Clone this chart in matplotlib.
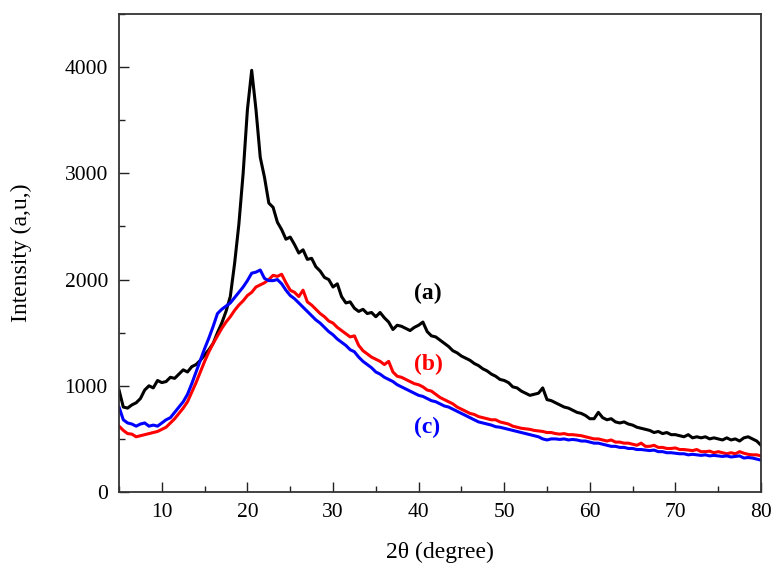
import numpy as np
import matplotlib
matplotlib.use("Agg")
import matplotlib.pyplot as plt
from matplotlib.ticker import MultipleLocator

# --- data (step 0.5 degree, 5 -> 80) ---
two_theta = np.arange(5.0, 80.01, 0.5)

intensity_a = [
    960, 800, 790, 820, 840, 880, 960, 1000, 980, 1050,
    1030, 1040, 1080, 1070, 1110, 1150, 1130, 1180, 1200, 1240,
    1290, 1340, 1400, 1500, 1590, 1700, 1840, 2150, 2520, 3000,
    3600, 3970, 3600, 3150, 2960, 2720, 2680, 2540, 2470, 2380,
    2400, 2330, 2250, 2280, 2190, 2200, 2120, 2080, 2020, 2000,
    1930, 1960, 1840, 1780, 1790, 1730, 1700, 1720, 1680, 1690,
    1650, 1690, 1640, 1600, 1530, 1570, 1560, 1540, 1520, 1550,
    1570, 1600, 1510, 1470, 1460, 1430, 1400, 1370, 1330, 1310,
    1280, 1260, 1240, 1210, 1190, 1160, 1140, 1110, 1090, 1060,
    1050, 1030, 990, 980, 950, 930, 910, 920, 930, 980,
    870, 860, 840, 820, 800, 790, 770, 750, 740, 720,
    690, 690, 750, 700, 680, 690, 660, 650, 660, 640,
    630, 610, 600, 590, 580, 560, 570, 550, 560, 540,
    540, 530, 520, 540, 510, 520, 510, 520, 500, 510,
    500, 490, 510, 490, 500, 480, 510, 520, 500, 480,
    440,
]

intensity_b = [
    620, 580, 550, 545, 520, 530, 540, 550, 560, 570,
    590, 610, 650, 690, 740, 790, 850, 940, 1030, 1130,
    1230, 1320, 1400, 1470, 1540, 1600, 1650, 1710, 1760, 1800,
    1850, 1880, 1930, 1950, 1970, 2000, 2040, 2030, 2050, 1970,
    1900, 1880, 1840, 1900, 1790, 1760, 1720, 1680, 1650, 1610,
    1590, 1550, 1520, 1490, 1460, 1470, 1380, 1330, 1300, 1270,
    1250, 1230, 1200, 1230, 1130, 1090, 1080, 1060, 1040, 1020,
    1010, 990, 960, 950, 920, 890, 870, 850, 830, 800,
    780, 760, 740, 730, 710, 700, 690, 680, 680, 660,
    650, 640, 620, 610, 600, 595, 590, 580, 575, 570,
    560, 560, 550, 545, 550, 540, 540, 535, 530, 520,
    510, 500, 500, 490, 480, 490, 470, 470, 460, 460,
    450, 440, 460, 430, 430, 440, 420, 420, 410, 410,
    415, 400, 400, 395, 390, 400, 380, 380, 385, 370,
    380, 370, 360, 370, 360, 380, 365, 355, 350, 350,
    340,
]

intensity_c = [
    800, 680, 650, 640, 620, 640, 650, 620, 630, 620,
    650, 680, 700, 750, 800, 850, 920, 1020, 1130, 1240,
    1350, 1450, 1560, 1680, 1720, 1750, 1780, 1830, 1880, 1930,
    1990, 2060, 2070, 2090, 2010, 1990, 1990, 2000, 1960, 1900,
    1850, 1820, 1780, 1740, 1700, 1660, 1620, 1590, 1550, 1510,
    1480, 1440, 1410, 1380, 1340, 1320, 1270, 1230, 1200, 1170,
    1130, 1110, 1080, 1060, 1040, 1010, 990, 970, 950, 930,
    910, 900, 880, 860, 850, 830, 810, 800, 780, 760,
    740, 720, 700, 680, 660, 650, 640, 630, 615, 610,
    600, 590, 580, 570, 560, 550, 540, 530, 520, 500,
    490, 500, 500, 495, 500, 490, 495, 490, 480, 480,
    470, 460, 460, 450, 440, 430, 430, 420, 420, 410,
    410, 400, 400, 395, 390, 395, 380, 380, 370, 370,
    365, 360, 360, 350, 355, 350, 345, 350, 340, 345,
    340, 335, 340, 330, 335, 340, 320, 325, 320, 310,
    300,
]

series_labels = ["(a)", "(b)", "(c)"]
series_colors = ["black", "red", "blue"]
label_pos = [(41.1, 1870), (41.1, 1205), (41.0, 612)]

plt.rcParams["font.family"] = ["Liberation Serif", "DejaVu Serif"]

fig = plt.figure(figsize=(7.81, 5.76), dpi=100)
ax = fig.add_axes([0.1524, 0.1458, 0.822, 0.8299])

for y, c in zip([intensity_a, intensity_b, intensity_c], series_colors):
    ax.plot(two_theta, y, color=c, lw=2.2)

for lab, c, (lx, ly) in zip(series_labels, series_colors, label_pos):
    ax.text(lx, ly, lab, color=c, fontsize=17, fontweight="bold",
            ha="center", va="center")

ax.set_xlim(5, 80)
ax.set_ylim(0, 4500)
ax.xaxis.set_major_locator(MultipleLocator(10))
ax.xaxis.set_minor_locator(MultipleLocator(5))
ax.yaxis.set_major_locator(MultipleLocator(1000))
ax.yaxis.set_minor_locator(MultipleLocator(500))
ax.tick_params(which="both", direction="in", top=False, right=False,
               labelsize=15.5, width=1.0, color="#222222")
ax.tick_params(which="major", length=7, pad=8)
ax.tick_params(which="minor", length=4)
for sp in ax.spines.values():
    sp.set_linewidth(1.3)
    sp.set_color("#333333")

ax.set_xlabel("2\u03b8 (degree)", fontsize=17)
ax.set_ylabel("Intensity (a,u,)", fontsize=17)
ax.xaxis.set_label_coords(0.5, -0.105)
ax.yaxis.set_label_coords(-0.135, 0.5)

fig.savefig("out.png", dpi=100)
